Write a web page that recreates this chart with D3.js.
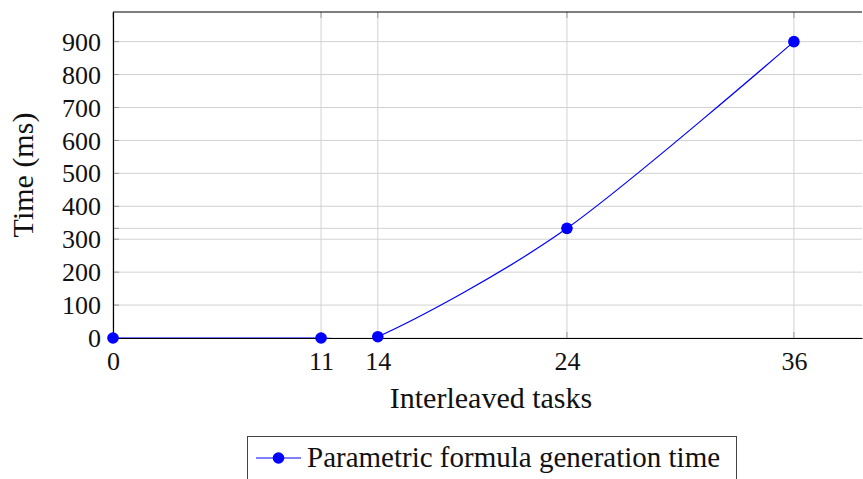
<!DOCTYPE html>
<html>
<head>
<meta charset="utf-8">
<script src="https://cdn.jsdelivr.net/npm/d3@7"></script>
<style>
  body { margin: 0; background: #fff; }
  text { font-family: "Liberation Serif", "Times New Roman", Tinos, "DejaVu Serif", "Noto Serif", FreeSerif, serif; fill: #111; }
</style>
</head>
<body>
<svg id="chart" width="863" height="479"></svg>
<script>
// data
const tasks = [0, 11, 14, 24, 36];
const times = [0, 0, 4, 333, 900];
const yTickLabels = [0, 100, 200, 300, 400, 500, 600, 700, 800, 900];
const extraYTicks = [333];
const seriesName = "Parametric formula generation time";

const serif = '"Liberation Serif", "Times New Roman", Tinos, "DejaVu Serif", "Noto Serif", FreeSerif, serif';

const margin = {top: 12, right: 1, bottom: 141, left: 113},
  width = 863 - margin.left - margin.right,
  height = 479 - margin.top - margin.bottom;

const svg = d3.select("#chart");
const g = svg.append("g")
  .attr("transform", "translate(" + margin.left + "," + margin.top + ")");

// clip the curve to the axis area like pgfplots does
svg.append("defs").append("clipPath").attr("id", "plotclip")
  .append("rect").attr("x", 0).attr("y", 0).attr("width", width).attr("height", height);

const x = d3.scaleLinear().domain([0, 39.6]).range([0, width]);
const y = d3.scaleLinear().domain([0, 990]).range([height, 0]);

const gridY = yTickLabels.concat(extraYTicks);

// grid
g.append("g").selectAll("line").data(tasks).join("line")
  .attr("x1", d => x(d)).attr("x2", d => x(d))
  .attr("y1", 0).attr("y2", height)
  .style("stroke", "#d2d2d2").style("stroke-width", 1);
g.append("g").selectAll("line").data(gridY).join("line")
  .attr("x1", 0).attr("x2", width)
  .attr("y1", d => y(d)).attr("y2", d => y(d))
  .style("stroke", "#d2d2d2").style("stroke-width", 1);

// small inner tick marks
const tickLen = 6;
g.append("g").selectAll("line").data(tasks).join("line")
  .attr("x1", d => x(d)).attr("x2", d => x(d))
  .attr("y1", height).attr("y2", height - tickLen)
  .style("stroke", "#999");
g.append("g").selectAll("line").data(tasks).join("line")
  .attr("x1", d => x(d)).attr("x2", d => x(d))
  .attr("y1", 0).attr("y2", tickLen)
  .style("stroke", "#999");
g.append("g").selectAll("line").data(gridY).join("line")
  .attr("x1", 0).attr("x2", tickLen)
  .attr("y1", d => y(d)).attr("y2", d => y(d))
  .style("stroke", "#999");

// axes
const xAxis = g.append("g")
  .attr("transform", "translate(0," + height + ")")
  .call(d3.axisBottom(x).tickValues(tasks).tickSize(0).tickPadding(7));
const yAxis = g.append("g")
  .call(d3.axisLeft(y).tickValues(yTickLabels).tickSize(0).tickPadding(12));
[xAxis, yAxis].forEach(a => {
  a.attr("font-family", serif);
  a.select(".domain").style("stroke", "#000").style("stroke-width", 1.2);
  a.selectAll("text").style("font-size", "26px")
    .style("font-family", serif).style("fill", "#111");
});
xAxis.selectAll("text").attr("dy", "0.95em");
yAxis.selectAll("text").attr("dy", "0.33em");

// top border
g.append("line")
  .attr("x1", 0).attr("x2", width).attr("y1", 0).attr("y2", 0)
  .style("stroke", "#000").style("stroke-width", 1.2);

// series
const pts = tasks.map((t, i) => [t, times[i]]);
const line = d3.line()
  .x(d => x(d[0])).y(d => y(d[1]))
  .curve(d3.curveCardinal.tension(0.1));
g.append("path").datum(pts)
  .attr("d", line)
  .attr("clip-path", "url(#plotclip)")
  .style("fill", "none").style("stroke", "#0000ff").style("stroke-width", 1.2);
g.append("g").selectAll("circle").data(pts).join("circle")
  .attr("cx", d => x(d[0])).attr("cy", d => y(d[1]))
  .attr("r", 5.8).style("fill", "#0000ff");

// axis labels
svg.append("text")
  .attr("x", 491).attr("y", 408)
  .attr("text-anchor", "middle")
  .style("font-size", "30px")
  .text("Interleaved tasks");
svg.append("text")
  .attr("transform", "translate(33," + (margin.top + height / 2) + ") rotate(-90)")
  .attr("text-anchor", "middle")
  .style("font-size", "30px")
  .text("Time (ms)");

// legend
const leg = svg.append("g");
leg.append("rect")
  .attr("x", 247.5).attr("y", 436.5).attr("width", 489).attr("height", 60)
  .style("fill", "#fff").style("stroke", "#444").style("stroke-width", 1);
leg.append("line")
  .attr("x1", 256).attr("x2", 301).attr("y1", 458).attr("y2", 458)
  .style("stroke", "#0000ff").style("stroke-width", 1.2);
leg.append("circle")
  .attr("cx", 278.5).attr("cy", 458).attr("r", 5.8).style("fill", "#0000ff");
leg.append("text")
  .attr("x", 307).attr("y", 467)
  .style("font-size", "29px")
  .text(seriesName);
</script>
</body>
</html>
